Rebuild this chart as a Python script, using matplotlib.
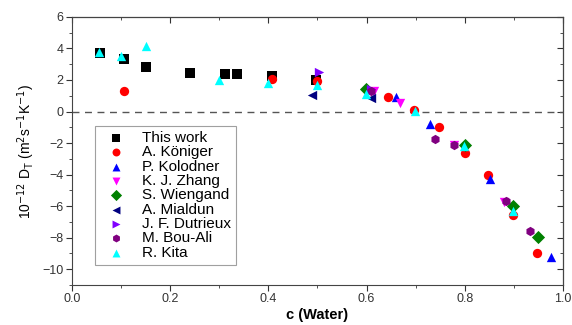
import matplotlib
matplotlib.use("Agg")
import matplotlib.pyplot as plt
from matplotlib.ticker import MultipleLocator

plt.rcParams["font.family"] = ["Liberation Sans", "DejaVu Sans"]

this_x = [0.057, 0.105, 0.15, 0.24, 0.312, 0.337, 0.408, 0.498]
this_y = [3.7, 3.3, 2.85, 2.45, 2.38, 2.38, 2.28, 1.98]
koniger_x = [0.105, 0.408, 0.5, 0.644, 0.697, 0.748, 0.80, 0.847, 0.899, 0.948]
koniger_y = [1.28, 2.04, 1.95, 0.91, 0.1, -1.0, -2.6, -4.02, -6.53, -8.96]
kolodner_x = [0.66, 0.729, 0.851, 0.975]
kolodner_y = [0.91, -0.79, -4.3, -9.2]
zhang_x = [0.615, 0.669, 0.778, 0.88]
zhang_y = [1.3, 0.53, -2.1, -5.76]
wiegand_x = [0.599, 0.80, 0.899, 0.949]
wiegand_y = [1.42, -2.1, -6.0, -7.94]
mialdun_x = [0.489, 0.61]
mialdun_y = [1.02, 0.87]
dutrieux_x = [0.503, 0.61]
dutrieux_y = [2.49, 1.42]
bouali_x = [0.61, 0.74, 0.778, 0.884, 0.934]
bouali_y = [1.3, -1.72, -2.1, -5.68, -7.6]
kita_x = [0.055, 0.1, 0.15, 0.30, 0.40, 0.50, 0.599, 0.699, 0.799, 0.899]
kita_y = [3.77, 3.5, 4.17, 1.98, 1.83, 1.66, 1.08, 0.06, -2.2, -6.3]

series = [
    ("This work", this_x, this_y, "s", "black"),
    ("A. Königer", koniger_x, koniger_y, "o", "red"),
    ("P. Kolodner", kolodner_x, kolodner_y, "^", "blue"),
    ("K. J. Zhang", zhang_x, zhang_y, "v", "magenta"),
    ("S. Wiengand", wiegand_x, wiegand_y, "D", "#008000"),
    ("A. Mialdun", mialdun_x, mialdun_y, "<", "#000080"),
    ("J. F. Dutrieux", dutrieux_x, dutrieux_y, ">", "#8000ff"),
    ("M. Bou-Ali", bouali_x, bouali_y, "h", "#800080"),
    ("R. Kita", kita_x, kita_y, "^", "cyan"),
]

fig = plt.figure(figsize=(5.72, 3.25), dpi=100)
ax = fig.add_axes([0.126, 0.123, 0.858, 0.825])

for label, x, y, marker, color in series:
    ax.scatter(x, y, marker=marker, c=color, s=45, label=label, linewidths=0, zorder=3)

ax.axhline(0, color="#555555", ls=(0, (5, 4)), lw=1.0, zorder=1)

ax.set_xlim(0, 1.0)
ax.set_ylim(-11, 6)
ax.xaxis.set_major_locator(MultipleLocator(0.2))
ax.xaxis.set_minor_locator(MultipleLocator(0.1))
ax.yaxis.set_major_locator(MultipleLocator(2))
ax.yaxis.set_minor_locator(MultipleLocator(1))
ax.tick_params(which="both", direction="out", labelsize=9, colors="#333333", pad=2)
ax.tick_params(which="major", length=4)
ax.tick_params(which="minor", length=2.5)

# mirrored ticks on top and right, pointing inward
top = ax.secondary_xaxis("top")
top.xaxis.set_major_locator(MultipleLocator(0.2))
top.xaxis.set_minor_locator(MultipleLocator(0.1))
top.tick_params(which="both", direction="in", labeltop=False, colors="#333333")
top.tick_params(which="major", length=4)
top.tick_params(which="minor", length=2.5)
right = ax.secondary_yaxis("right")
right.yaxis.set_major_locator(MultipleLocator(2))
right.yaxis.set_minor_locator(MultipleLocator(1))
right.tick_params(which="both", direction="in", labelright=False, colors="#333333")
right.tick_params(which="major", length=4)
right.tick_params(which="minor", length=2.5)

for sp in ax.spines.values():
    sp.set_color("#444444")

ax.set_xlabel("c (Water)", fontsize=10.5, fontweight="bold", labelpad=2)
ax.set_ylabel("10$^{-12}$ D$_\\mathregular{T}$ (m$^2$s$^{-1}$K$^{-1}$)", fontsize=10, labelpad=4)

leg = ax.legend(loc="lower left", bbox_to_anchor=(0.047, 0.075), fontsize=11, frameon=True,
                fancybox=False, edgecolor="#888888", handletextpad=0.7, labelspacing=0.02,
                borderpad=0.35, markerscale=0.85, scatterpoints=1, borderaxespad=0)
leg.get_frame().set_linewidth(0.8)

fig.savefig("out.png", dpi=100)
